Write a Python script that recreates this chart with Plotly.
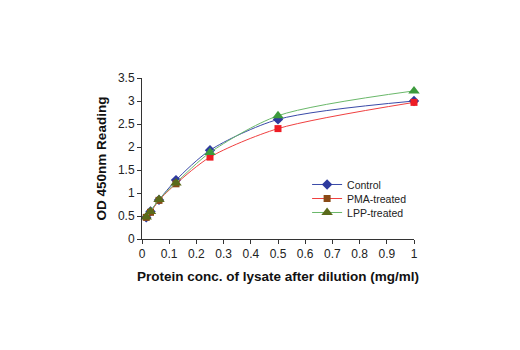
import plotly.graph_objects as go

conc = [0.0156, 0.03125, 0.0625, 0.125, 0.25, 0.5, 1.0]
control = [0.47, 0.60, 0.85, 1.28, 1.93, 2.60, 3.00]
pma = [0.47, 0.58, 0.84, 1.20, 1.78, 2.40, 2.97]
lpp = [0.48, 0.60, 0.86, 1.22, 1.88, 2.68, 3.22]

pma_marker_colors = ["#8a4a16"] * 4 + ["#ee1c24"] * 3
lpp_marker_colors = ["#5a6a1a"] * 4 + ["#3c9a3c"] * 3

fig = go.Figure()
fig.add_trace(go.Scatter(x=conc, y=control, name="Control", mode="lines+markers", legend="legend",
                         line=dict(color="#3a4aa8", width=1, shape="spline", smoothing=0.8),
                         marker=dict(symbol="diamond", size=8, color="#2e3a9e")))
fig.add_trace(go.Scatter(x=conc, y=pma, name="PMA-treated", mode="lines+markers", legend="legend2",
                         line=dict(color="#f04040", width=1, shape="spline", smoothing=0.8),
                         marker=dict(symbol="square", size=7, color=pma_marker_colors)))
fig.add_trace(go.Scatter(x=conc, y=lpp, name="LPP-treated", mode="lines+markers", legend="legend3",
                         line=dict(color="#6ab86a", width=1, shape="spline", smoothing=0.8),
                         marker=dict(symbol="triangle-up", size=10, color=lpp_marker_colors)))

fig.update_traces(cliponaxis=False)

axis_font = dict(family="Liberation Sans Narrow, Arial Narrow, Liberation Sans, Arial", size=12, color="#222")
leg_font = dict(family="Liberation Sans Narrow, Arial Narrow, Liberation Sans, Arial", size=10.5, color="#222")


def leg(y):
    return dict(x=0.607, y=y, xanchor="left", yanchor="top", font=leg_font,
                bgcolor="rgba(0,0,0,0)", itemwidth=30)


fig.update_layout(
    width=520, height=350,
    margin=dict(l=142, r=106, t=78, b=111),
    paper_bgcolor="white", plot_bgcolor="white",
    showlegend=True,
    legend=leg(0.4286),
    legend2=leg(0.3416),
    legend3=leg(0.2547),
    xaxis=dict(range=[0, 1.0], tickmode="array",
               tickvals=[0, 0.1, 0.2, 0.3, 0.4, 0.5, 0.6, 0.7, 0.8, 0.9, 1.0],
               ticktext=["0", "0.1", "0.2", "0.3", "0.4", "0.5", "0.6", "0.7", "0.8", "0.9", "1"],
               showgrid=False, zeroline=False, showline=True, linecolor="#333", linewidth=1,
               ticks="outside", ticklen=4, tickcolor="#333", tickfont=axis_font,
               title=dict(text="<b>Protein conc. of lysate after dilution (mg/ml)</b>",
                          font=dict(family="Liberation Sans, Arial", size=13.5, color="#111"), standoff=11)),
    yaxis=dict(range=[0, 3.5], tickmode="array",
               tickvals=[0, 0.5, 1, 1.5, 2, 2.5, 3, 3.5],
               ticktext=["0", "0.5", "1", "1.5", "2", "2.5", "3", "3.5"],
               showgrid=False, zeroline=False, showline=True, linecolor="#333", linewidth=1,
               ticks="outside", ticklen=4, tickcolor="#333", tickfont=axis_font,
               title=dict(text="<b>OD 450nm Reading</b>",
                          font=dict(family="Liberation Sans, Arial", size=13.5, color="#111"), standoff=8)),
)

fig.write_html("out.html")
